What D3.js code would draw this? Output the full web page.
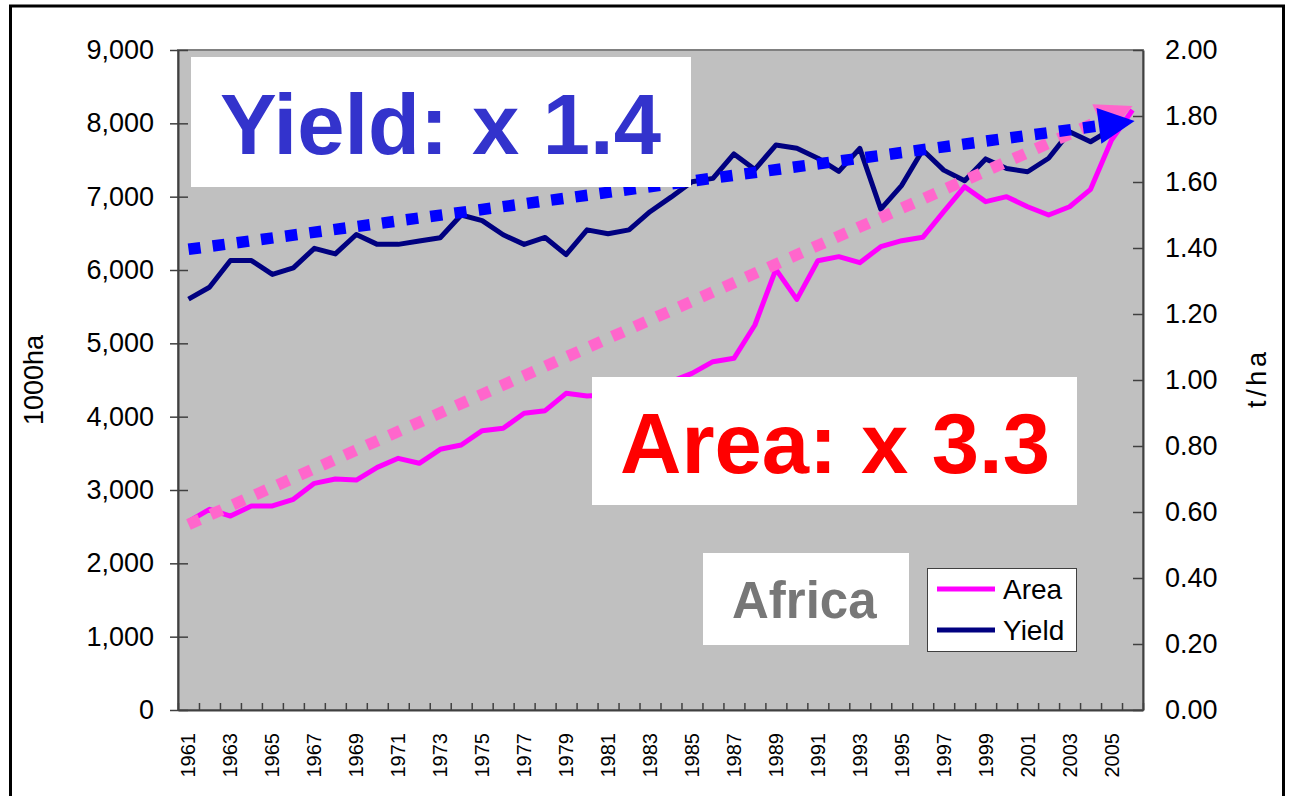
<!DOCTYPE html>
<html>
<head>
<meta charset="utf-8">
<script src="https://cdn.jsdelivr.net/npm/d3@7"></script>
<style>
  body { margin: 0; background: #fff; }
  svg { display: block; font-family: "Liberation Sans", Arial, sans-serif; }
</style>
</head>
<body>
<svg id="chart" width="1289" height="796"></svg>
<script>
// categories
var years = [1961, 1962, 1963, 1964, 1965, 1966, 1967, 1968, 1969, 1970,
  1971, 1972, 1973, 1974, 1975, 1976, 1977, 1978, 1979, 1980,
  1981, 1982, 1983, 1984, 1985, 1986, 1987, 1988, 1989, 1990,
  1991, 1992, 1993, 1994, 1995, 1996, 1997, 1998, 1999, 2000,
  2001, 2002, 2003, 2004, 2005, 2006];
var yearLabels = [1961, 1963, 1965, 1967, 1969, 1971, 1973, 1975, 1977, 1979,
  1981, 1983, 1985, 1987, 1989, 1991, 1993, 1995, 1997, 1999, 2001, 2003, 2005];

// harvested area, 1000ha (left axis)
var areaValues = [2568, 2737, 2645, 2782, 2782, 2873, 3091, 3150, 3136, 3309,
  3432, 3364, 3555, 3614, 3809, 3841, 4046, 4082, 4318, 4282,
  4300, 4360, 4420, 4480, 4590, 4750, 4796, 5250, 6009, 5600,
  6127, 6182, 6100, 6318, 6400, 6446, 6795, 7136, 6932, 7000,
  6863, 6750, 6863, 7100, 7773, 8182];
// yield, t/ha (right axis) - 1961..2005
var yieldValues = [1.245, 1.281, 1.362, 1.362, 1.320, 1.340, 1.399, 1.382, 1.441, 1.411,
  1.411, 1.421, 1.431, 1.500, 1.483, 1.440, 1.411, 1.432, 1.380, 1.455,
  1.443, 1.455, 1.510, 1.554, 1.601, 1.611, 1.685, 1.638, 1.712, 1.702,
  1.672, 1.632, 1.702, 1.518, 1.590, 1.697, 1.636, 1.604, 1.670, 1.641,
  1.631, 1.672, 1.752, 1.722, 1.760];

// trend arrows [year, value]
var areaTrend = [[1961.0, 2530], [2006.0, 8236]];
var yieldTrend = [[1961.0, 1.396], [2006.1, 1.785]];

var areaTicks = [0, 1000, 2000, 3000, 4000, 5000, 6000, 7000, 8000, 9000];
var yieldTicks = [0, 0.2, 0.4, 0.6, 0.8, 1.0, 1.2, 1.4, 1.6, 1.8, 2.0];

var svg = d3.select("#chart");
var L = 178, R = 1143, T = 50, B = 710;

var x = d3.scaleLinear()
  .domain([years[0] - 0.5, years[years.length - 1] + 0.5])
  .range([L, R]);
var yArea = d3.scaleLinear().domain([0, 9000]).range([B, T]);
var yYield = d3.scaleLinear().domain([0, 2]).range([B, T]);

// outer frame
svg.append("rect")
  .attr("x", 10.5).attr("y", 6).attr("width", 1273).attr("height", 860)
  .attr("fill", "none").attr("stroke", "#000").attr("stroke-width", 3);

// plot area
svg.append("rect")
  .attr("x", L).attr("y", T).attr("width", R - L).attr("height", B - T)
  .attr("fill", "#c0c0c0").attr("stroke", "#808080").attr("stroke-width", 2);

// left axis
var gLeft = svg.append("g").attr("transform", "translate(" + L + ",0)")
  .call(d3.axisLeft(yArea).tickValues(areaTicks).tickFormat(d3.format(","))
    .tickSizeInner(8).tickSizeOuter(0).tickPadding(16));
gLeft.selectAll(".tick line").attr("x1", 10).attr("stroke", "#404040").attr("stroke-width", 1.5);
gLeft.select(".domain").attr("stroke", "#404040").attr("stroke-width", 2);
gLeft.selectAll(".tick text").attr("font-size", 27).attr("fill", "#000")
  .attr("font-family", "Liberation Sans, Arial, sans-serif");

// right axis
var gRight = svg.append("g").attr("transform", "translate(" + R + ",0)")
  .call(d3.axisRight(yYield).tickValues(yieldTicks).tickFormat(d3.format(".2f"))
    .tickSizeInner(-10).tickSizeOuter(0).tickPadding(22));
gRight.selectAll(".tick line").attr("stroke", "#404040").attr("stroke-width", 1.5);
gRight.select(".domain").attr("stroke", "#404040").attr("stroke-width", 2);
gRight.selectAll(".tick text").attr("font-size", 27).attr("fill", "#000")
  .attr("font-family", "Liberation Sans, Arial, sans-serif");

// bottom axis, ticks between categories
var bounds = years.map(function(y) { return y - 0.5; }).concat([years[years.length - 1] + 0.5]);
var gBottom = svg.append("g").attr("transform", "translate(0," + B + ")")
  .call(d3.axisBottom(x).tickValues(bounds).tickFormat("")
    .tickSizeInner(-7).tickSizeOuter(0));
gBottom.selectAll(".tick line").attr("stroke", "#404040").attr("stroke-width", 1.5);
gBottom.select(".domain").attr("stroke", "#404040").attr("stroke-width", 2);

svg.append("g").selectAll("text")
  .data(yearLabels)
  .join("text")
  .attr("transform", function(d) { return "translate(" + (x(d) + 7) + ",733) rotate(-90)"; })
  .attr("text-anchor", "end")
  .attr("font-size", 20)
  .text(function(d) { return d; });

// axis titles
svg.append("text")
  .attr("transform", "translate(43,380) rotate(-90)")
  .attr("text-anchor", "middle").attr("font-size", 27)
  .text("1000ha");
svg.append("text")
  .attr("transform", "translate(1266,380) rotate(-90)")
  .attr("text-anchor", "middle").attr("font-size", 27)
  .attr("textLength", 56).attr("lengthAdjust", "spacing")
  .text("t/ha");

// data lines
var areaLine = d3.line()
  .x(function(d, i) { return x(years[i]); })
  .y(function(d) { return yArea(d); });
var yieldLine = d3.line()
  .x(function(d, i) { return x(years[i]); })
  .y(function(d) { return yYield(d); });

svg.append("path").datum(areaValues)
  .attr("d", areaLine)
  .attr("fill", "none").attr("stroke", "#ff00ff").attr("stroke-width", 5)
  .attr("stroke-linejoin", "round");
svg.append("path").datum(yieldValues)
  .attr("d", yieldLine)
  .attr("fill", "none").attr("stroke", "#000080").attr("stroke-width", 5)
  .attr("stroke-linejoin", "round");

// dotted trend arrow
function trendArrow(pts, yScale, color) {
  var p0 = [x(pts[0][0]), yScale(pts[0][1])];
  var p1 = [x(pts[1][0]), yScale(pts[1][1])];
  var dx = p1[0] - p0[0], dy = p1[1] - p0[1];
  var len = Math.sqrt(dx * dx + dy * dy);
  var ux = dx / len, uy = dy / len;
  var headL = 36, headW = 36;
  var bx = p1[0] - ux * headL, by = p1[1] - uy * headL;
  svg.append("line")
    .attr("x1", p0[0]).attr("y1", p0[1])
    .attr("x2", bx + ux * 2).attr("y2", by + uy * 2)
    .attr("stroke", color).attr("stroke-width", 11.5)
    .attr("stroke-dasharray", "12.2,12.2");
  svg.append("polygon")
    .attr("points", [
      [p1[0], p1[1]],
      [bx - uy * headW / 2, by + ux * headW / 2],
      [bx + uy * headW / 2, by - ux * headW / 2]
    ].map(function(p) { return p.join(","); }).join(" "))
    .attr("fill", color);
}
trendArrow(areaTrend, yArea, "#ff66cc");
trendArrow(yieldTrend, yYield, "#0000ff");

// text boxes
function labelBox(x0, y0, w, h, tx, ty, size, color, txt) {
  svg.append("rect").attr("x", x0).attr("y", y0).attr("width", w).attr("height", h)
    .attr("fill", "#fff");
  svg.append("text").attr("x", tx).attr("y", ty)
    .attr("font-size", size).attr("font-weight", "bold").attr("fill", color)
    .text(txt);
}
labelBox(191, 57, 500, 130, 220, 154, 85, "#3333cc", "Yield: x 1.4");
labelBox(592, 377, 485, 128, 620, 473, 85, "#ff0000", "Area: x 3.3");
labelBox(703, 553, 206, 92, 732, 618, 51, "#777777", "Africa");

// legend
var legend = [
  { name: "Area", color: "#ff00ff" },
  { name: "Yield", color: "#000080" }
];
svg.append("rect")
  .attr("x", 927.5).attr("y", 568.5).attr("width", 149).attr("height", 83)
  .attr("fill", "#fff").attr("stroke", "#404040").attr("stroke-width", 1);
var lg = svg.append("g").selectAll("g").data(legend).join("g")
  .attr("transform", function(d, i) { return "translate(0," + (589 + i * 41) + ")"; });
lg.append("line").attr("x1", 937).attr("x2", 995)
  .attr("stroke", function(d) { return d.color; }).attr("stroke-width", 5);
lg.append("text").attr("x", 1003).attr("dy", "0.36em")
  .attr("font-size", 28)
  .text(function(d) { return d.name; });
</script>
</body>
</html>
